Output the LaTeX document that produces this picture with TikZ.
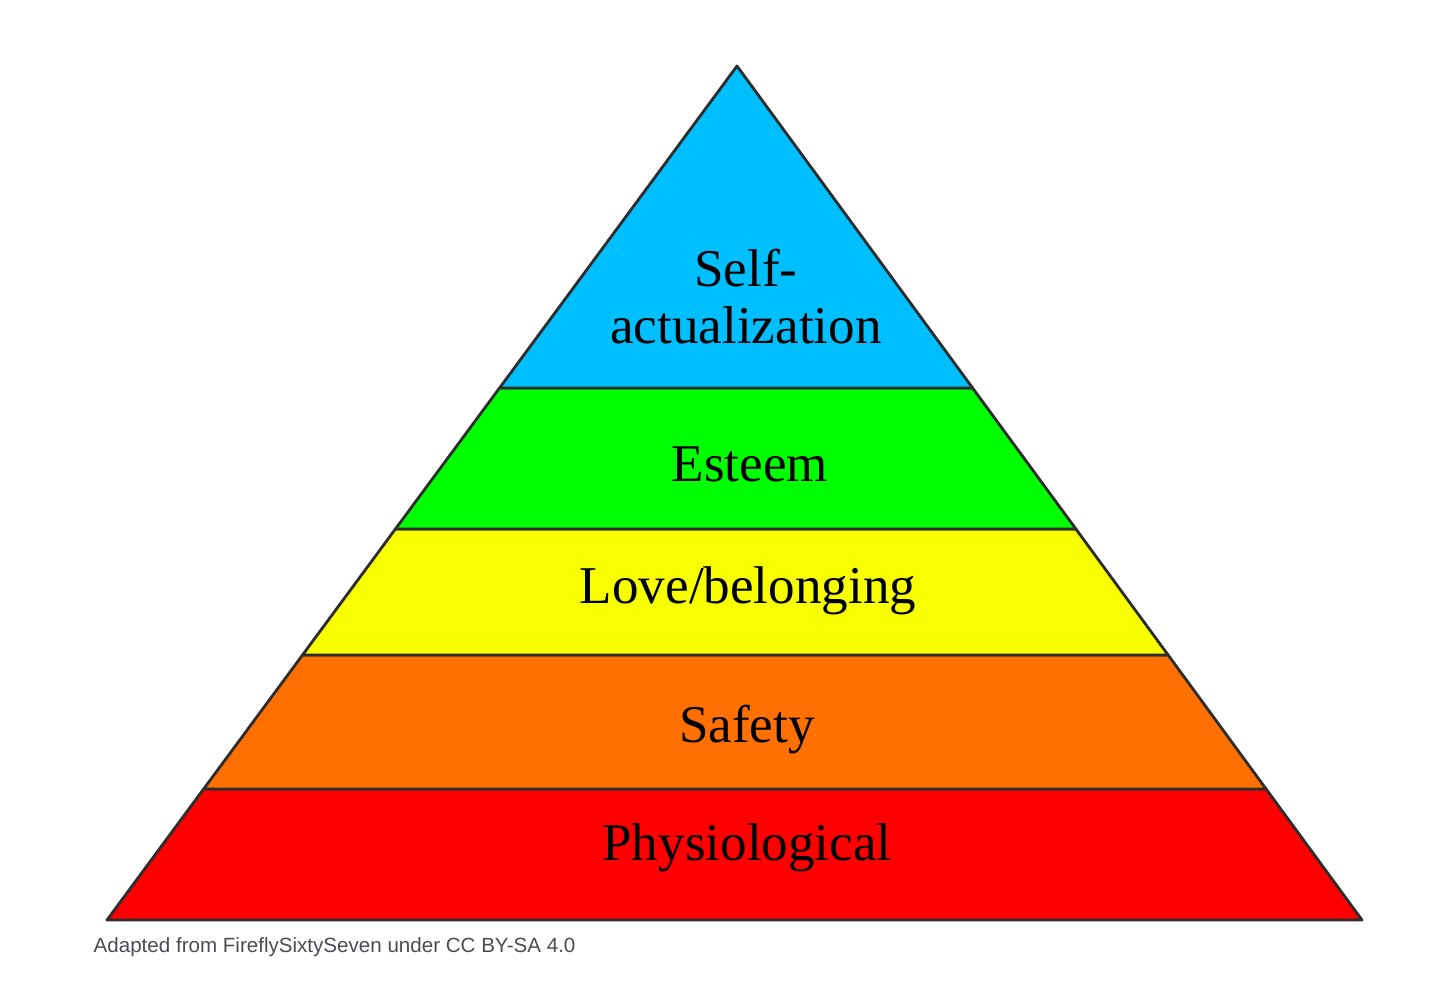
\documentclass[tikz,border=0pt]{standalone}
\usepackage{fontspec}
\setmainfont{Liberation Serif}
\newfontfamily\captionfont{Liberation Sans}
\usepackage{tikz}

\definecolor{skyband}{RGB}{0,191,255}
\definecolor{greenband}{RGB}{0,255,0}
\definecolor{yellowband}{RGB}{247,255,0}
\definecolor{orangeband}{RGB}{255,112,0}
\definecolor{redband}{RGB}{255,0,0}
\definecolor{edgegray}{RGB}{45,45,45}
\definecolor{creditgray}{RGB}{75,75,85}

\begin{document}
\begin{tikzpicture}[x=0.01cm, y=-0.01cm,
	level/.style = {draw = edgegray, line width = 0.8pt, line join = round},
	levellabel/.style = {anchor = base,
						 inner sep = 0pt,
						 align = center,
						 font = \fontsize{15.1}{16}\selectfont}]

	\useasboundingbox (0,0) rectangle (1440,1005);

	% levels, bottom to top
	\filldraw[level, fill = redband] (107,920) -- (1362,920) 
		-- (1266.1,789) -- (203.6,789) -- cycle;
	\filldraw[level, fill = orangeband] (203.6,789) -- (1266.1,789) 
		-- (1168.1,655) -- (302.5,655) -- cycle;
	\filldraw[level, fill = yellowband] (302.5,655) -- (1168.1,655) 
		-- (1075.9,529) -- (395.4,529) -- cycle;
	\filldraw[level, fill = greenband] (395.4,529) -- (1075.9,529) 
		-- (972.6,388) -- (499.5,388) -- cycle;
	\filldraw[level, fill = skyband] (499.5,388) -- (972.6,388) 
		-- (737,66) -- cycle;

	\draw (746,343) node[levellabel](self){Self-\\actualization};
	\draw (750,481) node[levellabel](esteem){Esteem};
	\draw (748,603) node[levellabel](love){Love/belonging};
	\draw (747,742) node[levellabel](safety){Safety};
	\draw (747,860) node[levellabel](physio){Physiological};

	\draw (93,952) node[anchor = base west,
						inner sep = 0pt,
						text = creditgray,
						font = \captionfont\fontsize{5.85}{7}\selectfont](credit)
		{Adapted from FireflySixtySeven under CC BY-SA 4.0};

\end{tikzpicture}
\end{document}
